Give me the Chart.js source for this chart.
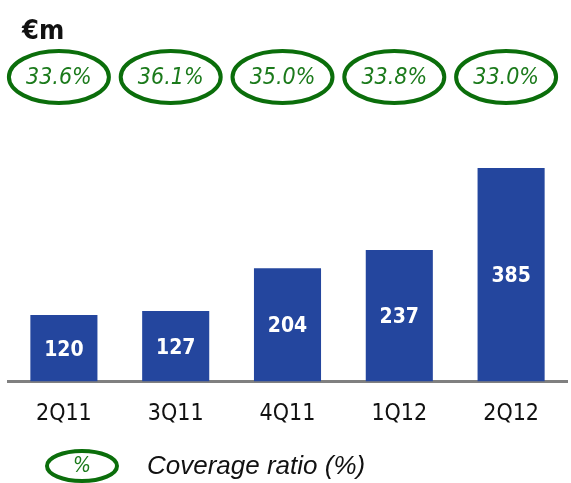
<!DOCTYPE html>
<html>
<head>
<meta charset="utf-8">
<script src="https://cdn.jsdelivr.net/npm/chart.js@4"></script>
<style>
  html, body { margin:0; padding:0; background:#fff; }
  #wrap { width:571px; height:483px; position:relative; }
</style>
</head>
<body>
<div id="wrap"><canvas id="chart" width="571" height="483"></canvas></div>
<script>
/* ---------- Data ---------- */
const quarters = ['2Q11', '3Q11', '4Q11', '1Q12', '2Q12'];
const impairments = [120, 127, 204, 237, 385];
const coverageRatio = ['33.6%', '36.1%', '35.0%', '33.8%', '33.0%'];

const BAR_BLUE = '#24469E';
const RING_GREEN = '#0B6E0B';
const TEXT_GREEN = '#1B7A1B';

function drawRing(ctx, cx, cy, rx, ry, text, fontPx){
  ctx.save();
  ctx.beginPath();
  ctx.ellipse(cx, cy, rx, ry, 0, 0, Math.PI * 2);
  ctx.lineWidth = 4;
  ctx.strokeStyle = RING_GREEN;
  ctx.stroke();
  ctx.fillStyle = TEXT_GREEN;
  ctx.font = 'italic ' + fontPx + 'px "DejaVu Sans Condensed"';
  ctx.textAlign = 'center';
  ctx.textBaseline = 'middle';
  ctx.fillText(text, cx, cy + 1);
  ctx.restore();
}

// value labels in the middle of each bar, coverage rings above, unit + legend
const decorations = {
  id: 'decorations',
  afterDatasetsDraw(chart){
    const ctx = chart.ctx;
    const meta = chart.getDatasetMeta(0);
    ctx.save();
    ctx.fillStyle = '#fff';
    ctx.font = 'bold 21px "DejaVu Sans Condensed"';
    ctx.textAlign = 'center';
    ctx.textBaseline = 'middle';
    meta.data.forEach((bar, i) => {
      const mid = (bar.y + bar.base) / 2;
      ctx.fillText(String(impairments[i]), bar.x, mid + 2);
    });
    ctx.restore();

    const xs = chart.scales.x;
    coverageRatio.forEach((t, i) => {
      drawRing(ctx, xs.getPixelForValue(i) - 5, 77, 50, 26, t, 23);
    });

    ctx.save();
    ctx.fillStyle = '#111';
    ctx.font = 'bold 27px "DejaVu Sans Condensed"';
    ctx.textBaseline = 'alphabetic';
    ctx.fillText('€m', 22, 39);
    ctx.restore();

    drawRing(ctx, 82, 466, 35, 15, '%', 21);
    ctx.save();
    ctx.fillStyle = '#111';
    ctx.font = 'italic 26px "Liberation Sans"';
    ctx.textBaseline = 'middle';
    ctx.fillText('Coverage ratio (%)', 147, 467);
    ctx.restore();
  }
};

new Chart(document.getElementById('chart'), {
  type: 'bar',
  data: {
    labels: quarters,
    datasets: [{
      data: impairments,
      backgroundColor: BAR_BLUE,
      borderWidth: 0,
      barPercentage: 0.6,
      categoryPercentage: 1.0
    }]
  },
  options: {
    responsive: false,
    animation: false,
    layout: { padding: { top: 132, left: 8, right: 4, bottom: 36 } },
    plugins: { legend: { display: false }, tooltip: { enabled: false } },
    scales: {
      x: {
        grid: { display: false, drawTicks: false },
        border: { display: true, color: '#808080', width: 3 },
        ticks: { color: '#111', padding: 19, font: { family: 'DejaVu Sans Condensed', size: 23 } }
      },
      y: { display: false, min: 0, max: 450 }
    }
  },
  plugins: [decorations]
});
</script>
</body>
</html>
